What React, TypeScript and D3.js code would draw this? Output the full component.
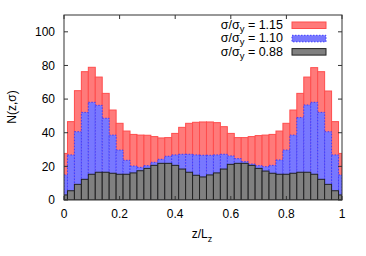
import React from "react";
import * as d3 from "d3";

const binCenters = d3.range(41).map((k) => k / 40);
const binWidth = 1 / 40;

const red115 = [27.7, 46.6, 65.0, 76.3, 78.9, 73.1, 63.4, 53.5, 45.6, 41.0, 39.0, 38.6, 38.5, 37.7, 36.9, 37.1, 39.6, 43.2, 45.6, 46.2, 46.4, 46.4, 46.0, 43.6, 39.6, 37.1, 37.1, 37.7, 38.3, 38.6, 39.0, 41.0, 45.6, 53.5, 63.4, 73.1, 78.7, 76.3, 64.8, 46.6, 27.7];
const blue110 = [14.9, 26.8, 40.6, 52.1, 58.1, 56.3, 48.6, 38.6, 29.7, 23.6, 20.2, 19.4, 20.4, 22.4, 24.2, 26.0, 26.8, 27.2, 27.2, 26.8, 26.6, 26.6, 26.8, 27.2, 26.2, 24.6, 22.8, 21.4, 20.4, 19.8, 20.6, 23.8, 29.7, 38.6, 49.0, 56.5, 58.1, 52.1, 40.6, 26.8, 14.9];
const gray088 = [3.0, 5.5, 9.3, 12.3, 15.3, 16.5, 16.5, 15.9, 15.3, 15.3, 16.1, 17.4, 18.8, 20.6, 21.8, 21.8, 20.6, 18.4, 16.5, 14.7, 13.7, 14.9, 16.1, 18.4, 21.2, 21.8, 21.8, 20.6, 18.8, 17.2, 15.9, 15.3, 15.3, 15.9, 16.5, 16.5, 15.3, 12.3, 9.3, 5.5, 3.0];

const xTicks = [0, 0.2, 0.4, 0.6, 0.8, 1];
const xTickLabels = ["0", "0.2", "0.4", "0.6", "0.8", "1"];
const yTicks = [0, 20, 40, 60, 80, 100];
const legendValues = ["1.15", "1.10", "0.88"];

const W = 366;
const H = 256;
const left = 64;
const right = 342;
const top = 15;
const bottom = 200;

const x = d3.scaleLinear().domain([0, 1]).range([left, right]);
const y = d3.scaleLinear().domain([0, 110]).range([bottom, top]);

const series = [
  { values: red115, fill: "#ff7a7a", stroke: "#ff4d4d", dash: undefined as string | undefined, label: legendValues[0] },
  { values: blue110, fill: "#7878ff", stroke: "#3d3dff", dash: "1.5,1.5", label: legendValues[1] },
  { values: gray088, fill: "#808080", stroke: "#222222", dash: undefined as string | undefined, label: legendValues[2] },
];

const font = "'Liberation Sans', Arial, Helvetica, sans-serif";

export default function App() {
  const tickLen = 4;
  return (
    <svg width={W} height={H} style={{ position: "absolute", left: 0, top: 0, background: "#fff" }} fontFamily={font}>
      <defs>
        <clipPath id="plotclip">
          <rect x={left} y={top} width={right - left} height={bottom - top} />
        </clipPath>
      </defs>
      <g clipPath="url(#plotclip)">
        {series.map((s, si) => (
          <g key={si}>
            {s.values.map((v, k) => {
              const c = binCenters[k];
              const a = Math.max(0, c - binWidth / 2);
              const b = Math.min(1, c + binWidth / 2);
              const x0 = x(a);
              const x1 = x(b);
              return (
                <rect
                  key={k}
                  x={x0}
                  y={y(v)}
                  width={x1 - x0}
                  height={y(0) - y(v)}
                  fill={s.fill}
                  stroke={s.stroke}
                  strokeWidth={1}
                  strokeDasharray={s.dash}
                />
              );
            })}
          </g>
        ))}
      </g>
      {/* border */}
      <rect x={left} y={top} width={right - left} height={bottom - top} fill="none" stroke="#333" strokeWidth={1} />
      {/* y ticks */}
      {yTicks.map((t) => (
        <g key={"y" + t}>
          <line x1={left} x2={left + tickLen} y1={y(t)} y2={y(t)} stroke="#333" />
          <line x1={right} x2={right - tickLen} y1={y(t)} y2={y(t)} stroke="#333" />
          <text x={left - 9} y={y(t)} dy="0.35em" textAnchor="end" fontSize={12} fill="#000">
            {t}
          </text>
        </g>
      ))}
      {/* x ticks */}
      {xTicks.map((t, i) => (
        <g key={"x" + t}>
          <line x1={x(t)} x2={x(t)} y1={bottom} y2={bottom - tickLen} stroke="#333" />
          <line x1={x(t)} x2={x(t)} y1={top} y2={top + tickLen} stroke="#333" />
          <text x={x(t)} y={217.5} textAnchor="middle" fontSize={12} fill="#000">
            {xTickLabels[i]}
          </text>
        </g>
      ))}
      {/* axis labels */}
      <text transform="translate(16,107) rotate(-90)" textAnchor="middle" fontSize={12} fill="#000">
        N(z,σ)
      </text>
      <text x={202} y={238} textAnchor="middle" fontSize={12} fill="#000">
        z/L<tspan fontSize={9} dy={4}>z</tspan>
      </text>
      {/* legend */}
      {series.map((s, i) => {
        const cy = 25 + i * 13.3;
        return (
          <g key={"leg" + i}>
            <text x={283} y={cy + 4} textAnchor="end" fontSize={12.5} fill="#000">
              σ/σ<tspan fontSize={9.5} dy={3}>y</tspan>
              <tspan dy={-3}> = {s.label}</tspan>
            </text>
            <rect x={292} y={cy - 3} width={34} height={6.5} fill={s.fill} stroke={s.stroke} strokeDasharray={s.dash} />
          </g>
        );
      })}
    </svg>
  );
}
